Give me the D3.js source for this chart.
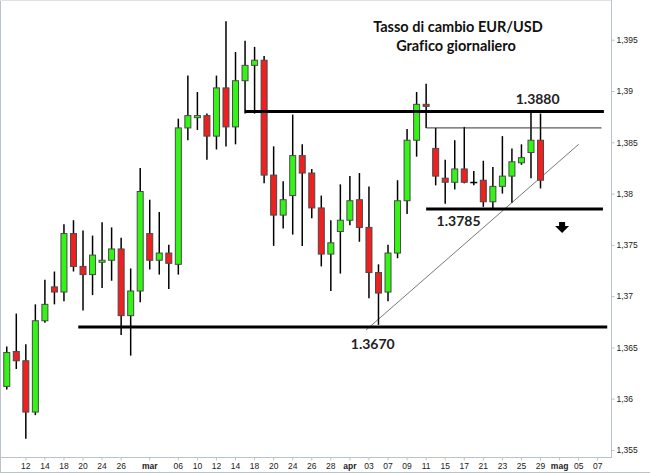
<!DOCTYPE html>
<html>
<head>
<meta charset="utf-8">
<script src="https://cdn.jsdelivr.net/npm/d3@7/dist/d3.min.js"></script>
<style>
body { margin: 0; background: #fff; }
text { font-variant-ligatures: none; }
</style>
</head>
<body>
<div id="grafico"></div>
<script>
"use strict";

// Giorni di contrattazione (candele)
var giorni = ["2014-02-10","2014-02-11","2014-02-12","2014-02-13","2014-02-14",
	"2014-02-17","2014-02-18","2014-02-19","2014-02-20","2014-02-21",
	"2014-02-24","2014-02-25","2014-02-26","2014-02-27","2014-02-28",
	"2014-03-03","2014-03-04","2014-03-05","2014-03-06","2014-03-07",
	"2014-03-10","2014-03-11","2014-03-12","2014-03-13","2014-03-14",
	"2014-03-17","2014-03-18","2014-03-19","2014-03-20","2014-03-21",
	"2014-03-24","2014-03-25","2014-03-26","2014-03-27","2014-03-28",
	"2014-03-31","2014-04-01","2014-04-02","2014-04-03","2014-04-04",
	"2014-04-07","2014-04-08","2014-04-09","2014-04-10","2014-04-11",
	"2014-04-14","2014-04-15","2014-04-16","2014-04-17","2014-04-18",
	"2014-04-21","2014-04-22","2014-04-23","2014-04-24","2014-04-25",
	"2014-04-28","2014-04-29"];
// Giorni futuri ancora vuoti sull'asse
var giorniVuoti = ["2014-04-30","2014-05-01","2014-05-02","2014-05-05","2014-05-06","2014-05-07","2014-05-08"];

var apertura = [1.3612,1.3646,1.3637,1.3587,1.3676, 1.3709,1.3704,1.3761,1.3729,1.3721,
	1.3733,1.3735,1.3746,1.3681,1.3705, 1.3761,1.3735,1.3742,1.3731,1.3864,
	1.3874,1.3876,1.3856,1.3903,1.3865, 1.3910,1.3925,1.3930,1.3818,1.3779,
	1.3798,1.3837,1.3820,1.3786,1.3741, 1.3763,1.3774,1.3794,1.3767,1.3723,
	1.3704,1.3742,1.3793,1.3852,1.3887, 1.3844,1.3815,1.3811,1.3824,1.3811,
	1.3813,1.3792,1.3807,1.3817,1.3830, 1.3840,1.3852];
var massimo = [1.3651,1.3683,1.3653,1.3692,1.3716, 1.3724,1.3770,1.3774,1.3764,1.3759,
	1.3772,1.3767,1.3757,1.3727,1.3825, 1.3794,1.3782,1.3750,1.3873,1.3915,
	1.3899,1.3878,1.3915,1.3968,1.3938, 1.3949,1.3943,1.3934,1.3846,1.3812,
	1.3877,1.3848,1.3824,1.3798,1.3774, 1.3809,1.3817,1.3820,1.3807,1.3731,
	1.3750,1.3813,1.3863,1.3899,1.3907, 1.3864,1.3833,1.3852,1.3865,1.3822,
	1.3832,1.3826,1.3856,1.3844,1.3848, 1.3880,1.3878];
var minimo = [1.3609,1.3629,1.3561,1.3584,1.3674, 1.3692,1.3695,1.3724,1.3686,1.3701,
	1.3708,1.3715,1.3662,1.3642,1.3694, 1.3726,1.3721,1.3707,1.3721,1.3852,
	1.3862,1.3833,1.3843,1.3846,1.3848, 1.3878,1.3878,1.3810,1.3749,1.3766,
	1.3760,1.3749,1.3776,1.3729,1.3705, 1.3722,1.3769,1.3753,1.3698,1.3672,
	1.3695,1.3737,1.3780,1.3836,1.3864, 1.3808,1.3790,1.3804,1.3810,1.3808,
	1.3787,1.3786,1.3800,1.3791,1.3828, 1.3815,1.3805];
var chiusura = [1.3645,1.3637,1.3587,1.3676,1.3692, 1.3704,1.3761,1.3729,1.3721,1.3740,
	1.3735,1.3746,1.3681,1.3705,1.3802, 1.3735,1.3742,1.3732,1.3864,1.3876,
	1.3876,1.3856,1.3903,1.3865,1.3910, 1.3925,1.3930,1.3818,1.3779,1.3794,
	1.3837,1.3820,1.3786,1.3741,1.3752, 1.3774,1.3793,1.3767,1.3723,1.3703,
	1.3742,1.3793,1.3852,1.3887,1.3885, 1.3817,1.3811,1.3824,1.3811,1.3811,
	1.3792,1.3807,1.3817,1.3831,1.3835, 1.3852,1.3813];

// Etichette dell'asse orizzontale
var tickGiorni = ["2014-02-12","2014-02-14","2014-02-18","2014-02-20","2014-02-24","2014-02-26",
	"2014-03-03","2014-03-06","2014-03-10","2014-03-12","2014-03-14","2014-03-18","2014-03-20",
	"2014-03-24","2014-03-26","2014-03-28","2014-04-01","2014-04-03","2014-04-07","2014-04-09",
	"2014-04-11","2014-04-15","2014-04-17","2014-04-21","2014-04-23","2014-04-25","2014-04-29",
	"2014-05-01","2014-05-05","2014-05-07"];
var tickEtichette = ["12","14","18","20","24","26","mar","06","10","12","14","18","20",
	"24","26","28","apr","03","07","09","11","15","17","21","23","25","29","mag","05","07"];
var mesi = ["mar","apr","mag"];

// Etichette dell'asse verticale
var tickPrezzi = [1.355,1.36,1.365,1.37,1.375,1.38,1.385,1.39,1.395];

// Livelli orizzontali (supporti / resistenze) e giorno di partenza
var livelliValori = [1.3670, 1.3880, 1.3864, 1.3785];
var livelliInizio = ["2014-02-19", "2014-03-17", "2014-04-11", "2014-04-11"];
var livelliFine = "2014-05-08";

// Trendline rialzista
var trendGiorni = ["2014-04-03", "2014-05-05"];
var trendValori = [1.3667, 1.3848];

// Etichette dei livelli
var etichetteValori = [1.3670, 1.3785, 1.3880];
var etichetteGiorni = ["2014-04-03", "2014-04-16", "2014-04-28"];

var larg = 650;
var haut = 474;

var svg = d3.select("#grafico")
	.append("svg")
	.attr("width", larg)
	.attr("height", haut)
	.style("display", "block");

var candele = giorni.map(function(g, i){
	return {g: g, o: apertura[i], h: massimo[i], l: minimo[i], c: chiusura[i]};
});

var x = d3.scaleBand()
	.domain(giorni.concat(giorniVuoti))
	.range([2, 612])
	.paddingInner(0.37)
	.paddingOuter(0.185);
var passo = x.step();
function cx(g){ return x(g) + x.bandwidth() / 2; }

var y = d3.scaleLinear()
	.domain([1.355, 1.395])
	.range([450, 39.7]);

var grigio = "#b9c3cb";

// Cornice
svg.append("line").attr("x1", 0.5).attr("x2", 0.5).attr("y1", 0).attr("y2", 473)
	.attr("stroke", grigio);
svg.append("line").attr("x1", 0).attr("x2", 612).attr("y1", 0.5).attr("y2", 0.5)
	.attr("stroke", "#dde3e8");
svg.append("line").attr("x1", 0).attr("x2", larg).attr("y1", 472.5).attr("y2", 472.5)
	.attr("stroke", grigio);
svg.append("line").attr("x1", 0).attr("x2", 612).attr("y1", 457.5).attr("y2", 457.5)
	.attr("stroke", grigio);
svg.append("line").attr("x1", 611.5).attr("x2", 611.5).attr("y1", 0).attr("y2", 458)
	.attr("stroke", grigio);

// Asse X
var assex = svg.append("g")
	.attr("transform", "translate(0,457.5)")
	.call(d3.axisBottom(x)
		.tickValues(tickGiorni)
		.tickSize(3)
		.tickPadding(2)
		.tickFormat(function(d){ return tickEtichette[tickGiorni.indexOf(d)]; }));
assex.select(".domain").remove();
assex.selectAll("line").attr("stroke", grigio);
assex.selectAll("text")
	.attr("font-family", "Liberation Sans, Arial, sans-serif")
	.attr("font-size", "8.5px")
	.attr("fill", "#222")
	.attr("font-weight", function(d){
		return mesi.indexOf(tickEtichette[tickGiorni.indexOf(d)]) >= 0 ? "bold" : "normal";
	});

// Asse Y
var assey = svg.append("g")
	.attr("transform", "translate(611.5,0)")
	.call(d3.axisRight(y)
		.tickValues(tickPrezzi)
		.tickSize(3)
		.tickPadding(2)
		.tickFormat(function(d){ return String(d).replace(".", ","); }));
assey.select(".domain").remove();
assey.selectAll("line").attr("stroke", grigio);
assey.selectAll("text")
	.attr("font-family", "Liberation Sans, Arial, sans-serif")
	.attr("font-size", "8.5px")
	.attr("fill", "#222");

// Trendline
svg.append("line")
	.attr("x1", cx(trendGiorni[0]) - 0.3 * passo)
	.attr("y1", y(trendValori[0]))
	.attr("x2", cx(trendGiorni[1]))
	.attr("y2", y(trendValori[1]))
	.attr("stroke", "#555")
	.attr("stroke-width", 0.8);

// Stoppini
svg.selectAll(".stoppino")
	.data(candele)
	.enter()
	.append("line")
	.attr("class", "stoppino")
	.attr("x1", function(d){ return cx(d.g); })
	.attr("x2", function(d){ return cx(d.g); })
	.attr("y1", function(d){ return y(d.h); })
	.attr("y2", function(d){ return y(d.l); })
	.attr("stroke", "#000")
	.attr("stroke-width", 1.5);

// Corpi delle candele
svg.selectAll(".corpo")
	.data(candele)
	.enter()
	.append("rect")
	.attr("class", "corpo")
	.attr("x", function(d){ return x(d.g); })
	.attr("width", x.bandwidth())
	.attr("y", function(d){ return y(Math.max(d.o, d.c)); })
	.attr("height", function(d){ return Math.max(0.5, Math.abs(y(d.o) - y(d.c))); })
	.attr("fill", function(d){
		if (d.c === d.o) return "#000";
		return d.c > d.o ? "#33f414" : "#ee2020";
	})
	.attr("stroke", function(d){ return d.c === d.o ? "#000" : "#4a4a4a"; })
	.attr("stroke-width", 1);

// Livelli orizzontali
var offInizio = [0.5, 0, 0, 0];
var offFine = [0, -0.35, -0.6, -0.45];
var spessori = [3, 3, 1, 3];
livelliValori.forEach(function(v, i){
	svg.append("line")
		.attr("x1", cx(livelliInizio[i]) + offInizio[i] * passo)
		.attr("x2", cx(livelliFine) + offFine[i] * passo)
		.attr("y1", y(v))
		.attr("y2", y(v))
		.attr("stroke", i === 2 ? "#333" : "#000")
		.attr("stroke-width", spessori[i]);
});

// Etichette dei livelli
var offEtX = [0.4, 0.4, 0.7];
var offEtY = [22, 17, -7.5];
etichetteValori.forEach(function(v, i){
	svg.append("text")
		.text(d3.format(".4f")(v))
		.attr("x", cx(etichetteGiorni[i]) + offEtX[i] * passo)
		.attr("y", y(v) + offEtY[i])
		.attr("text-anchor", "middle")
		.attr("font-family", "Lato, sans-serif")
		.attr("font-weight", "bold")
		.attr("font-size", "14px")
		.attr("fill", "#222");
});

// Freccia verso il basso
var fx = cx("2014-05-01") + 2.5;
var fy = y(1.3785) + 13;
svg.append("path")
	.attr("d", "M" + (fx - 3) + "," + fy + " h6 v4 h4 l-7,7 l-7,-7 h4 z")
	.attr("fill", "#000");

// Titolo
svg.append("text")
	.text("Tasso di cambio EUR/USD")
	.attr("x", 458)
	.attr("y", 32)
	.attr("text-anchor", "middle")
	.attr("font-family", "Lato, sans-serif")
	.attr("font-weight", "bold")
	.attr("font-size", "14.5px")
	.attr("fill", "#111");
svg.append("text")
	.text("Grafico giornaliero")
	.attr("x", 456)
	.attr("y", 51)
	.attr("text-anchor", "middle")
	.attr("font-family", "Lato, sans-serif")
	.attr("font-weight", "bold")
	.attr("font-size", "14.5px")
	.attr("fill", "#111");
</script>
</body>
</html>
